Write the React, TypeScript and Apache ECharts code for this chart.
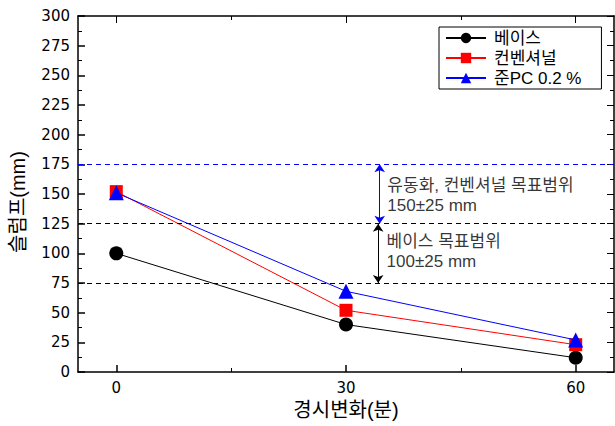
import React, { useEffect, useRef } from "react";
import * as echarts from "echarts";

const times = [0, 30, 60];
const baseValues = [100, 40, 12];
const convValues = [152, 52, 23];
const pcValues = [151, 68, 27];
const seriesNames = ["베이스", "컨벤셔널", "준PC 0.2 %"];
const xTicks = [0, 30, 60];
const xMinorTicks = [15, 45];
const targetLines = [175, 125, 75];
const yAxisTitle = "슬럼프(mm)";
const xAxisTitle = "경시변화(분)";
const annoTexts = ["유동화, 컨벤셔널 목표범위", "150±25 mm", "베이스 목표범위", "100±25 mm"];
const annoPoints = [
  [35.4, 156.8],
  [35.4, 140.0],
  [35.3, 109.8],
  [35.3, 93.0],
];

const FONT = "'DejaVu Sans', 'Noto Sans CJK KR', sans-serif";
const KFONT = "'Liberation Sans', 'Noto Sans CJK KR', sans-serif";

export default function App() {
  const ref = useRef<HTMLDivElement>(null);
  useEffect(() => {
    if (!ref.current) return;
    const chart = echarts.init(ref.current, undefined, { renderer: "svg" });
    const axisLine = { show: true, onZero: false, lineStyle: { color: "#000", width: 1.5 } };
    const xBase = { type: "value", min: -5, max: 65, splitLine: { show: false } };
    const option: any = {
      animation: false,
      backgroundColor: "#fff",
      grid: { left: 78, right: 1, top: 16, bottom: 54, outerBoundsMode: "none", containLabel: false },
      graphic: [
        {
          type: "text",
          x: 18,
          y: 202,
          rotation: Math.PI / 2,
          silent: true,
          style: {
            text: yAxisTitle,
            fontFamily: KFONT,
            fontSize: 20,
            fill: "#000",
            align: "center",
            verticalAlign: "middle",
          },
        },
      ],
      legend: {
        data: seriesNames,
        orient: "vertical",
        left: 439,
        top: 27,
        borderColor: "#000",
        borderWidth: 1,
        padding: [2, 20, 2, 6],
        itemWidth: 40,
        itemHeight: 13,
        itemGap: 2,
        textStyle: { fontFamily: KFONT, fontSize: 17, lineHeight: 18, color: "#000", padding: [0, 0, 0, 3] },
      },
      xAxis: [
        {
          ...xBase,
          position: "bottom",
          axisLine,
          axisTick: { show: true, inside: true, length: 7, customValues: xTicks, lineStyle: { color: "#000", width: 1.5 } },
          axisLabel: { customValues: xTicks, color: "#000", fontFamily: FONT, fontSize: 15, margin: 8 },
          name: xAxisTitle,
          nameLocation: "middle",
          nameGap: 26,
          nameTextStyle: { fontFamily: KFONT, fontSize: 20, color: "#000" },
        },
        {
          ...xBase,
          position: "bottom",
          axisLine: { show: false, onZero: false },
          axisTick: { show: true, inside: true, length: 4, customValues: xMinorTicks, lineStyle: { color: "#000", width: 1 } },
          axisLabel: { show: false },
        },
        {
          ...xBase,
          position: "top",
          axisLine,
          axisTick: { show: true, inside: true, length: 7, customValues: xTicks, lineStyle: { color: "#000", width: 1 } },
          axisLabel: { show: false },
        },
        {
          ...xBase,
          position: "top",
          axisLine: { show: false, onZero: false },
          axisTick: { show: true, inside: true, length: 4, customValues: xMinorTicks, lineStyle: { color: "#000", width: 1 } },
          axisLabel: { show: false },
        },
      ],
      yAxis: [
        {
          type: "value",
          min: 0,
          max: 300,
          interval: 25,
          position: "left",
          axisLine,
          splitLine: { show: false },
          axisTick: { show: true, inside: true, length: 7, lineStyle: { color: "#000", width: 1.5 } },
          minorTick: { show: true, splitNumber: 2, length: 4, lineStyle: { color: "#000", width: 1 } },
          axisLabel: { color: "#000", fontFamily: FONT, fontSize: 15, margin: 8 },
        },
        {
          type: "value",
          min: 0,
          max: 300,
          interval: 25,
          position: "right",
          axisLine,
          splitLine: { show: false },
          axisTick: { show: true, inside: true, length: 7, lineStyle: { color: "#000", width: 1 } },
          minorTick: { show: true, splitNumber: 2, length: 4, lineStyle: { color: "#000", width: 1 } },
          axisLabel: { show: false },
        },
      ],
      series: [
        {
          name: seriesNames[0],
          type: "line",
          data: times.map((t, i) => [t, baseValues[i]]),
          symbol: "circle",
          symbolSize: 14,
          itemStyle: { color: "#000" },
          lineStyle: { color: "#000", width: 1 },
          z: 3,
          markLine: {
            silent: true,
            symbol: "none",
            label: { show: false },
            data: targetLines.map((v, i) => ({
              yAxis: v,
              lineStyle: { color: i === 0 ? "#0000ff" : "#000", type: [5, 4], width: 1 },
            })),
          },
        },
        {
          name: seriesNames[1],
          type: "line",
          data: times.map((t, i) => [t, convValues[i]]),
          symbol: "rect",
          symbolSize: 13,
          itemStyle: { color: "#ff0000" },
          lineStyle: { color: "#ff0000", width: 1 },
          z: 4,
        },
        {
          name: seriesNames[2],
          type: "line",
          data: times.map((t, i) => [t, pcValues[i]]),
          symbol: "triangle",
          symbolSize: 15,
          itemStyle: { color: "#0000ff" },
          lineStyle: { color: "#0000ff", width: 1 },
          z: 5,
          markLine: {
            silent: true,
            symbol: ["arrow", "arrow"],
            symbolSize: 8,
            label: { show: false },
            data: [
              [
                { coord: [34.4, 175], lineStyle: { color: "#0000ff", type: "solid", width: 1 }, itemStyle: { color: "#0000ff" } },
                { coord: [34.4, 125] },
              ],
              [
                { coord: [34.2, 125], lineStyle: { color: "#000", type: "solid", width: 1 }, itemStyle: { color: "#000" } },
                { coord: [34.2, 75] },
              ],
            ],
          },
        },
        {
          name: "anno",
          type: "scatter",
          silent: true,
          symbolSize: 0,
          data: annoPoints,
          label: {
            show: true,
            position: "right",
            distance: 0,
            formatter: (p: any) => annoTexts[p.dataIndex],
            fontFamily: KFONT,
            fontSize: 17,
            lineHeight: 18,
            color: "#000",
            align: "left",
          },
        },
      ],
    };
    chart.setOption(option);
    return () => chart.dispose();
  }, []);
  return <div ref={ref} style={{ position: "fixed", left: 0, top: 0, width: 615, height: 426 }} />;
}
